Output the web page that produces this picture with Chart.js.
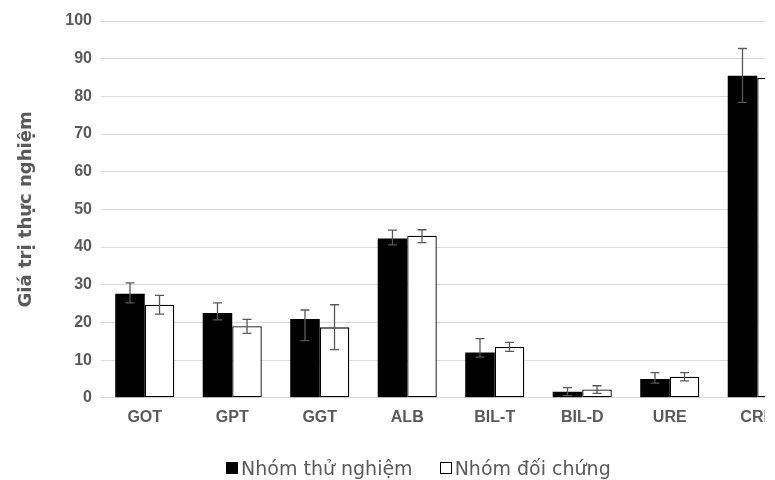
<!DOCTYPE html>
<html>
<head>
<meta charset="utf-8">
<script src="https://cdn.jsdelivr.net/npm/chart.js@4/dist/chart.umd.min.js"></script>
<style>
  html, body { margin: 0; padding: 0; background: #fff; overflow: hidden; }
  #frame { position: relative; width: 765px; height: 480px; overflow: hidden; }
  #wrap { position: absolute; left: 0; top: 0; width: 812px; height: 480px; }
  #legend {
    position: absolute; left: 226px; top: 457px;
    display: flex; align-items: center;
    font-family: 'DejaVu Sans', sans-serif; font-size: 19px; color: #595959;
  }
  .item { display: flex; align-items: center; margin-right: 27px; }
  .box { width: 12px; height: 12px; box-sizing: border-box; margin-right: 3px; }
</style>
</head>
<body>
<div id="frame">
  <div id="wrap"><canvas id="chart"></canvas></div>
  <div id="legend"></div>
</div>
<script>
// Dữ liệu
const categories = ['GOT', 'GPT', 'GGT', 'ALB', 'BIL-T', 'BIL-D', 'URE', 'CRE'];
const experimentValues = [27.6, 22.5, 20.9, 42.3, 12.0, 1.6, 5.0, 85.5];
const controlValues = [24.7, 19.0, 18.7, 43.0, 13.5, 2.2, 5.6, 84.9];
const experimentErrPlus = [2.9, 2.7, 2.4, 2.2, 3.7, 1.1, 1.7, 7.2];
const experimentErrMinus = [2.4, 1.8, 5.7, 1.7, 1.2, 1.0, 1.1, 7.1];
const controlErrPlus = [2.5, 1.8, 6.0, 1.6, 1.2, 1.0, 1.1, 7.0];
const controlErrMinus = [2.5, 1.9, 5.9, 1.8, 1.2, 1.0, 1.1, 7.0];
const yMin = 0;
const yMax = 100;
const yStep = 10;

const GRAY = '#595959';
const GRID = '#d9d9d9';

// Vẽ thanh sai số cho từng cột
const errorBars = {
  id: 'errorBars',
  afterDatasetsDraw(chart) {
    const ctx = chart.ctx;
    const y = chart.scales.y;
    ctx.save();
    ctx.strokeStyle = GRAY;
    ctx.lineWidth = 1.3;
    chart.data.datasets.forEach((ds, i) => {
      const meta = chart.getDatasetMeta(i);
      meta.data.forEach((bar, j) => {
        const v = ds.data[j];
        const top = y.getPixelForValue(v + ds.errPlus[j]);
        const bot = y.getPixelForValue(v - ds.errMinus[j]);
        const x = bar.x;
        ctx.beginPath();
        ctx.moveTo(x, top); ctx.lineTo(x, bot);
        ctx.moveTo(x - 4.5, top); ctx.lineTo(x + 4.5, top);
        ctx.moveTo(x - 4.5, bot); ctx.lineTo(x + 4.5, bot);
        ctx.stroke();
      });
    });
    ctx.restore();
  }
};

const chart = new Chart(document.getElementById('chart'), {
  type: 'bar',
  data: {
    labels: categories,
    datasets: [
      {
        label: 'Nhóm thử nghiệm',
        data: experimentValues,
        errPlus: experimentErrPlus,
        errMinus: experimentErrMinus,
        backgroundColor: '#000000',
        borderColor: '#000000',
        borderWidth: 0,
        categoryPercentage: 0.675,
        barPercentage: 1
      },
      {
        label: 'Nhóm đối chứng',
        data: controlValues,
        errPlus: controlErrPlus,
        errMinus: controlErrMinus,
        backgroundColor: '#ffffff',
        borderColor: '#000000',
        borderWidth: 1.3,
        borderSkipped: false,
        categoryPercentage: 0.675,
        barPercentage: 1
      }
    ]
  },
  options: {
    responsive: true,
    maintainAspectRatio: false,
    animation: false,
    layout: { padding: { left: 12, right: 11, top: 21, bottom: 51 } },
    plugins: {
      legend: { display: false },
      tooltip: { enabled: false }
    },
    scales: {
      x: {
        grid: { display: false },
        border: { display: true, color: GRID, width: 1 },
        ticks: {
          color: GRAY,
          padding: 2,
          font: { family: "'Liberation Sans', Arial, sans-serif", size: 16, weight: 'bold' }
        }
      },
      y: {
        min: yMin,
        max: yMax,
        afterFit(scale) { scale.width = 89; },
        grid: { color: GRID, lineWidth: 1, drawTicks: false },
        border: { display: false },
        ticks: {
          stepSize: yStep,
          color: GRAY,
          padding: 9,
          font: { family: "'Liberation Sans', Arial, sans-serif", size: 16, weight: 'bold' }
        },
        title: {
          display: true,
          text: 'Giá trị thực nghiệm',
          color: GRAY,
          font: { family: "'DejaVu Sans', sans-serif", size: 18, weight: 'bold' }
        }
      }
    }
  },
  plugins: [errorBars]
});

// Chú thích dạng HTML, lấy từ các dataset
const legendEl = document.getElementById('legend');
chart.data.datasets.forEach(ds => {
  const item = document.createElement('div');
  item.className = 'item';
  const box = document.createElement('span');
  box.className = 'box';
  box.style.background = ds.backgroundColor;
  box.style.border = '1px solid ' + ds.borderColor;
  const text = document.createElement('span');
  text.textContent = ds.label;
  item.appendChild(box);
  item.appendChild(text);
  legendEl.appendChild(item);
});
</script>
</body>
</html>
